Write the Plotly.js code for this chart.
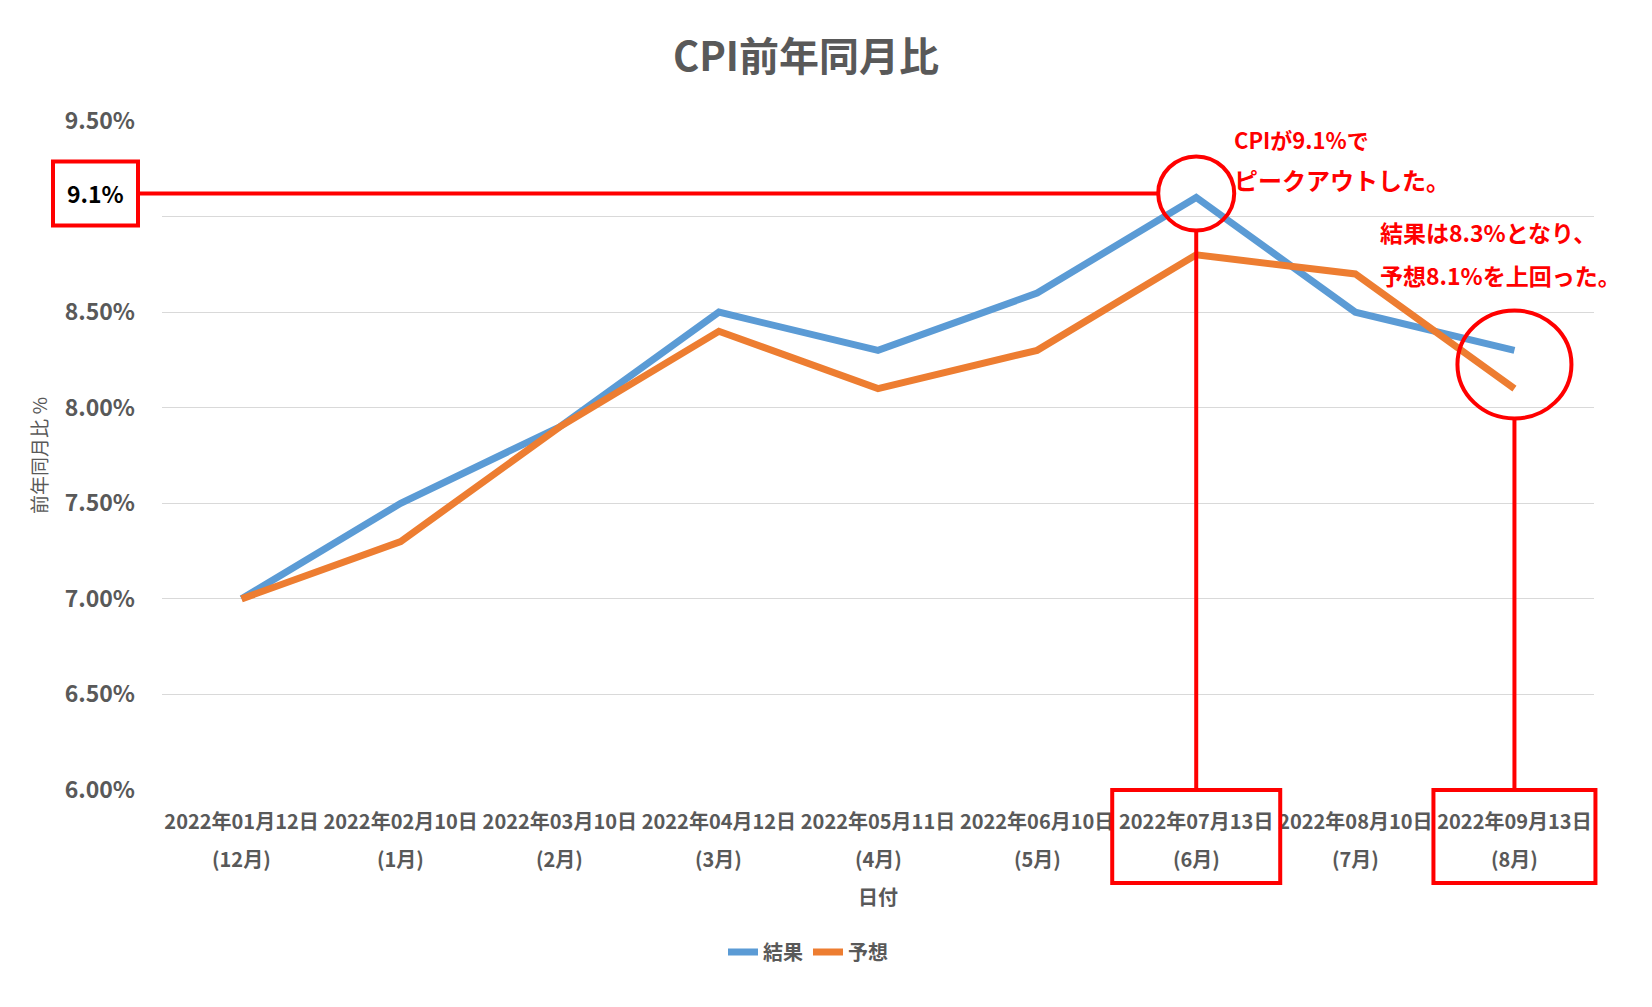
<!DOCTYPE html>
<html>
<head>
<meta charset="utf-8">
<script src="https://cdn.plot.ly/plotly-3.0.1.min.js"></script>
<style>
  html, body { margin: 0; padding: 0; background: #fff; }
  #chart { width: 1652px; height: 1007px; }
</style>
</head>
<body>
<div id="chart"></div>
<script>
// CPI前年同月比: 発表日ごとの結果と予想

const dates = [
  "2022年01月12日", "2022年02月10日", "2022年03月10日",
  "2022年04月12日", "2022年05月11日", "2022年06月10日",
  "2022年07月13日", "2022年08月10日", "2022年09月13日"
];
const months = ["(12月)", "(1月)", "(2月)", "(3月)", "(4月)", "(5月)", "(6月)", "(7月)", "(8月)"];

const result = [7.0, 7.5, 7.9, 8.5, 8.3, 8.6, 9.1, 8.5, 8.3];   // 結果
const forecast = [7.0, 7.3, 7.9, 8.4, 8.1, 8.3, 8.8, 8.7, 8.1]; // 予想

const yTicks = [6.0, 6.5, 7.0, 7.5, 8.0, 8.5, 9.0, 9.5];
// 9.00% is hidden behind the red 9.1% box in the original
const yTickLabels = ["6.00%", "6.50%", "7.00%", "7.50%", "8.00%", "8.50%", "", "9.50%"];
const yMin = 6.0;
const yMax = 9.5;

const FONT = '"Noto Sans CJK JP", "Noto Sans", sans-serif';
const GREY = "#595959";
const RED = "#FF0000";

// plot area in pixels (used to place the red call-outs)
const L = 162, R = 58, T = 121, B = 217;
const W = 1652 - L - R;
const H = 1007 - T - B;

function catX(i) { return (i + 0.5) / dates.length; }
function valY(v) { return (v - yMin) / (yMax - yMin); }
function dx(px) { return px / W; }
function dy(px) { return px / H; }
function pageX(px) { return (px - L) / W; }
function pageY(py) { return (1007 - B - py) / H; }

let peakIdx = result.indexOf(Math.max(...result));
let lastIdx = dates.length - 1;
let pkY = valY(result[peakIdx]) + dy(4);
let lastY = valY((result[lastIdx] + forecast[lastIdx]) / 2) + dy(5);

let traces = [
  {
    x: dates,
    y: result,
    name: "結果",
    mode: "lines",
    line: { color: "#5B9BD5", width: 7 },
    hoverinfo: "skip",
  },
  {
    x: dates,
    y: forecast,
    name: "予想",
    mode: "lines",
    line: { color: "#ED7D31", width: 7 },
    hoverinfo: "skip",
  },
];

let redLine = { color: RED, width: 4 };

let shapes = [
  // 9.1% box on the left + horizontal guide
  { type: "rect", xref: "paper", yref: "paper",
    x0: -dx(109), x1: -dx(24), y0: pkY - dy(32), y1: pkY + dy(32),
    line: redLine, fillcolor: "#FFFFFF", layer: "above" },
  { type: "line", xref: "paper", yref: "paper",
    x0: -dx(24), x1: catX(peakIdx) - dx(38), y0: pkY, y1: pkY,
    line: redLine, layer: "above" },
  // peak circle + drop line + box around the date
  { type: "circle", xref: "paper", yref: "paper",
    x0: catX(peakIdx) - dx(38), x1: catX(peakIdx) + dx(38),
    y0: pkY - dy(37), y1: pkY + dy(37),
    line: redLine, layer: "above" },
  { type: "line", xref: "paper", yref: "paper",
    x0: catX(peakIdx), x1: catX(peakIdx), y0: 0, y1: pkY - dy(37),
    line: redLine, layer: "above" },
  { type: "rect", xref: "paper", yref: "paper",
    x0: catX(peakIdx) - dx(84), x1: catX(peakIdx) + dx(84), y0: -dy(93), y1: 0,
    line: redLine, fillcolor: "rgba(0,0,0,0)", layer: "above" },
  // last release circle + drop line + box
  { type: "circle", xref: "paper", yref: "paper",
    x0: catX(lastIdx) - dx(57), x1: catX(lastIdx) + dx(57),
    y0: lastY - dy(54), y1: lastY + dy(54),
    line: redLine, layer: "above" },
  { type: "line", xref: "paper", yref: "paper",
    x0: catX(lastIdx), x1: catX(lastIdx), y0: 0, y1: lastY - dy(54),
    line: redLine, layer: "above" },
  { type: "rect", xref: "paper", yref: "paper",
    x0: catX(lastIdx) - dx(81), x1: catX(lastIdx) + dx(81), y0: -dy(93), y1: 0,
    line: redLine, fillcolor: "rgba(0,0,0,0)", layer: "above" },
];

function note(text, px, py, size) {
  return {
    text: text, xref: "paper", yref: "paper", x: pageX(px), y: pageY(py),
    xanchor: "left", yanchor: "middle", showarrow: false,
    font: { family: FONT, size: size, color: RED, weight: "bold" },
  };
}

let annotations = [
  { text: "9.1%", xref: "paper", yref: "paper", x: -dx(66.5), y: pkY,
    xanchor: "center", yanchor: "middle", showarrow: false,
    font: { family: FONT, size: 23, color: "#000000", weight: "bold" } },
  note("CPIが9.1%で", 1232, 139, 22),
  note("ピークアウトした。", 1232, 179, 24),
  note("結果は8.3%となり、", 1378, 232, 23),
  note("予想8.1%を上回った。", 1378, 275, 23),
];

// second line of the x labels (month the CPI refers to)
months.forEach(function (m, i) {
  annotations.push({
    text: m, xref: "x", yref: "paper", x: i, y: -dy(68),
    xanchor: "center", yanchor: "middle", showarrow: false,
    font: { family: FONT, size: 20, color: GREY, weight: "bold" },
  });
});

let layout = {
  width: 1652,
  height: 1007,
  margin: { l: L, r: R, t: T, b: B, pad: 0 },
  paper_bgcolor: "#FFFFFF",
  plot_bgcolor: "#FFFFFF",
  font: { family: FONT, color: GREY },
  title: {
    text: "CPI前年同月比",
    x: 806 / 1652,
    xanchor: "center",
    y: 1 - 57 / 1007,
    yanchor: "middle",
    font: { family: FONT, size: 40, color: GREY, weight: "bold" },
  },
  xaxis: {
    type: "category",
    range: [-0.5, dates.length - 0.5],
    showgrid: false,
    zeroline: false,
    showline: false,
    ticks: "",
    tickangle: 0,
    ticklabelstandoff: 18,
    tickfont: { family: FONT, size: 20, color: GREY, weight: "bold" },
    title: {
      text: "日付",
      standoff: 56,
      font: { family: FONT, size: 20, color: GREY, weight: "bold" },
    },
  },
  yaxis: {
    range: [yMin, yMax],
    tickmode: "array",
    tickvals: yTicks,
    ticktext: yTickLabels,
    showgrid: true,
    gridcolor: "#D9D9D9",
    gridwidth: 1,
    zeroline: false,
    showline: false,
    ticks: "",
    ticklabelstandoff: 26,
    tickfont: { family: FONT, size: 23, color: GREY, weight: "bold" },
    title: {
      text: "前年同月比 %",
      standoff: 12,
      font: { family: FONT, size: 19, color: GREY },
    },
  },
  showlegend: true,
  legend: {
    orientation: "h",
    x: pageX(808),
    xanchor: "center",
    y: pageY(952),
    yanchor: "middle",
    itemwidth: 30,
    font: { family: FONT, size: 20, color: GREY, weight: "bold" },
  },
  shapes: shapes,
  annotations: annotations,
};

Plotly.newPlot("chart", traces, layout, { staticPlot: true, displayModeBar: false });
</script>
</body>
</html>
